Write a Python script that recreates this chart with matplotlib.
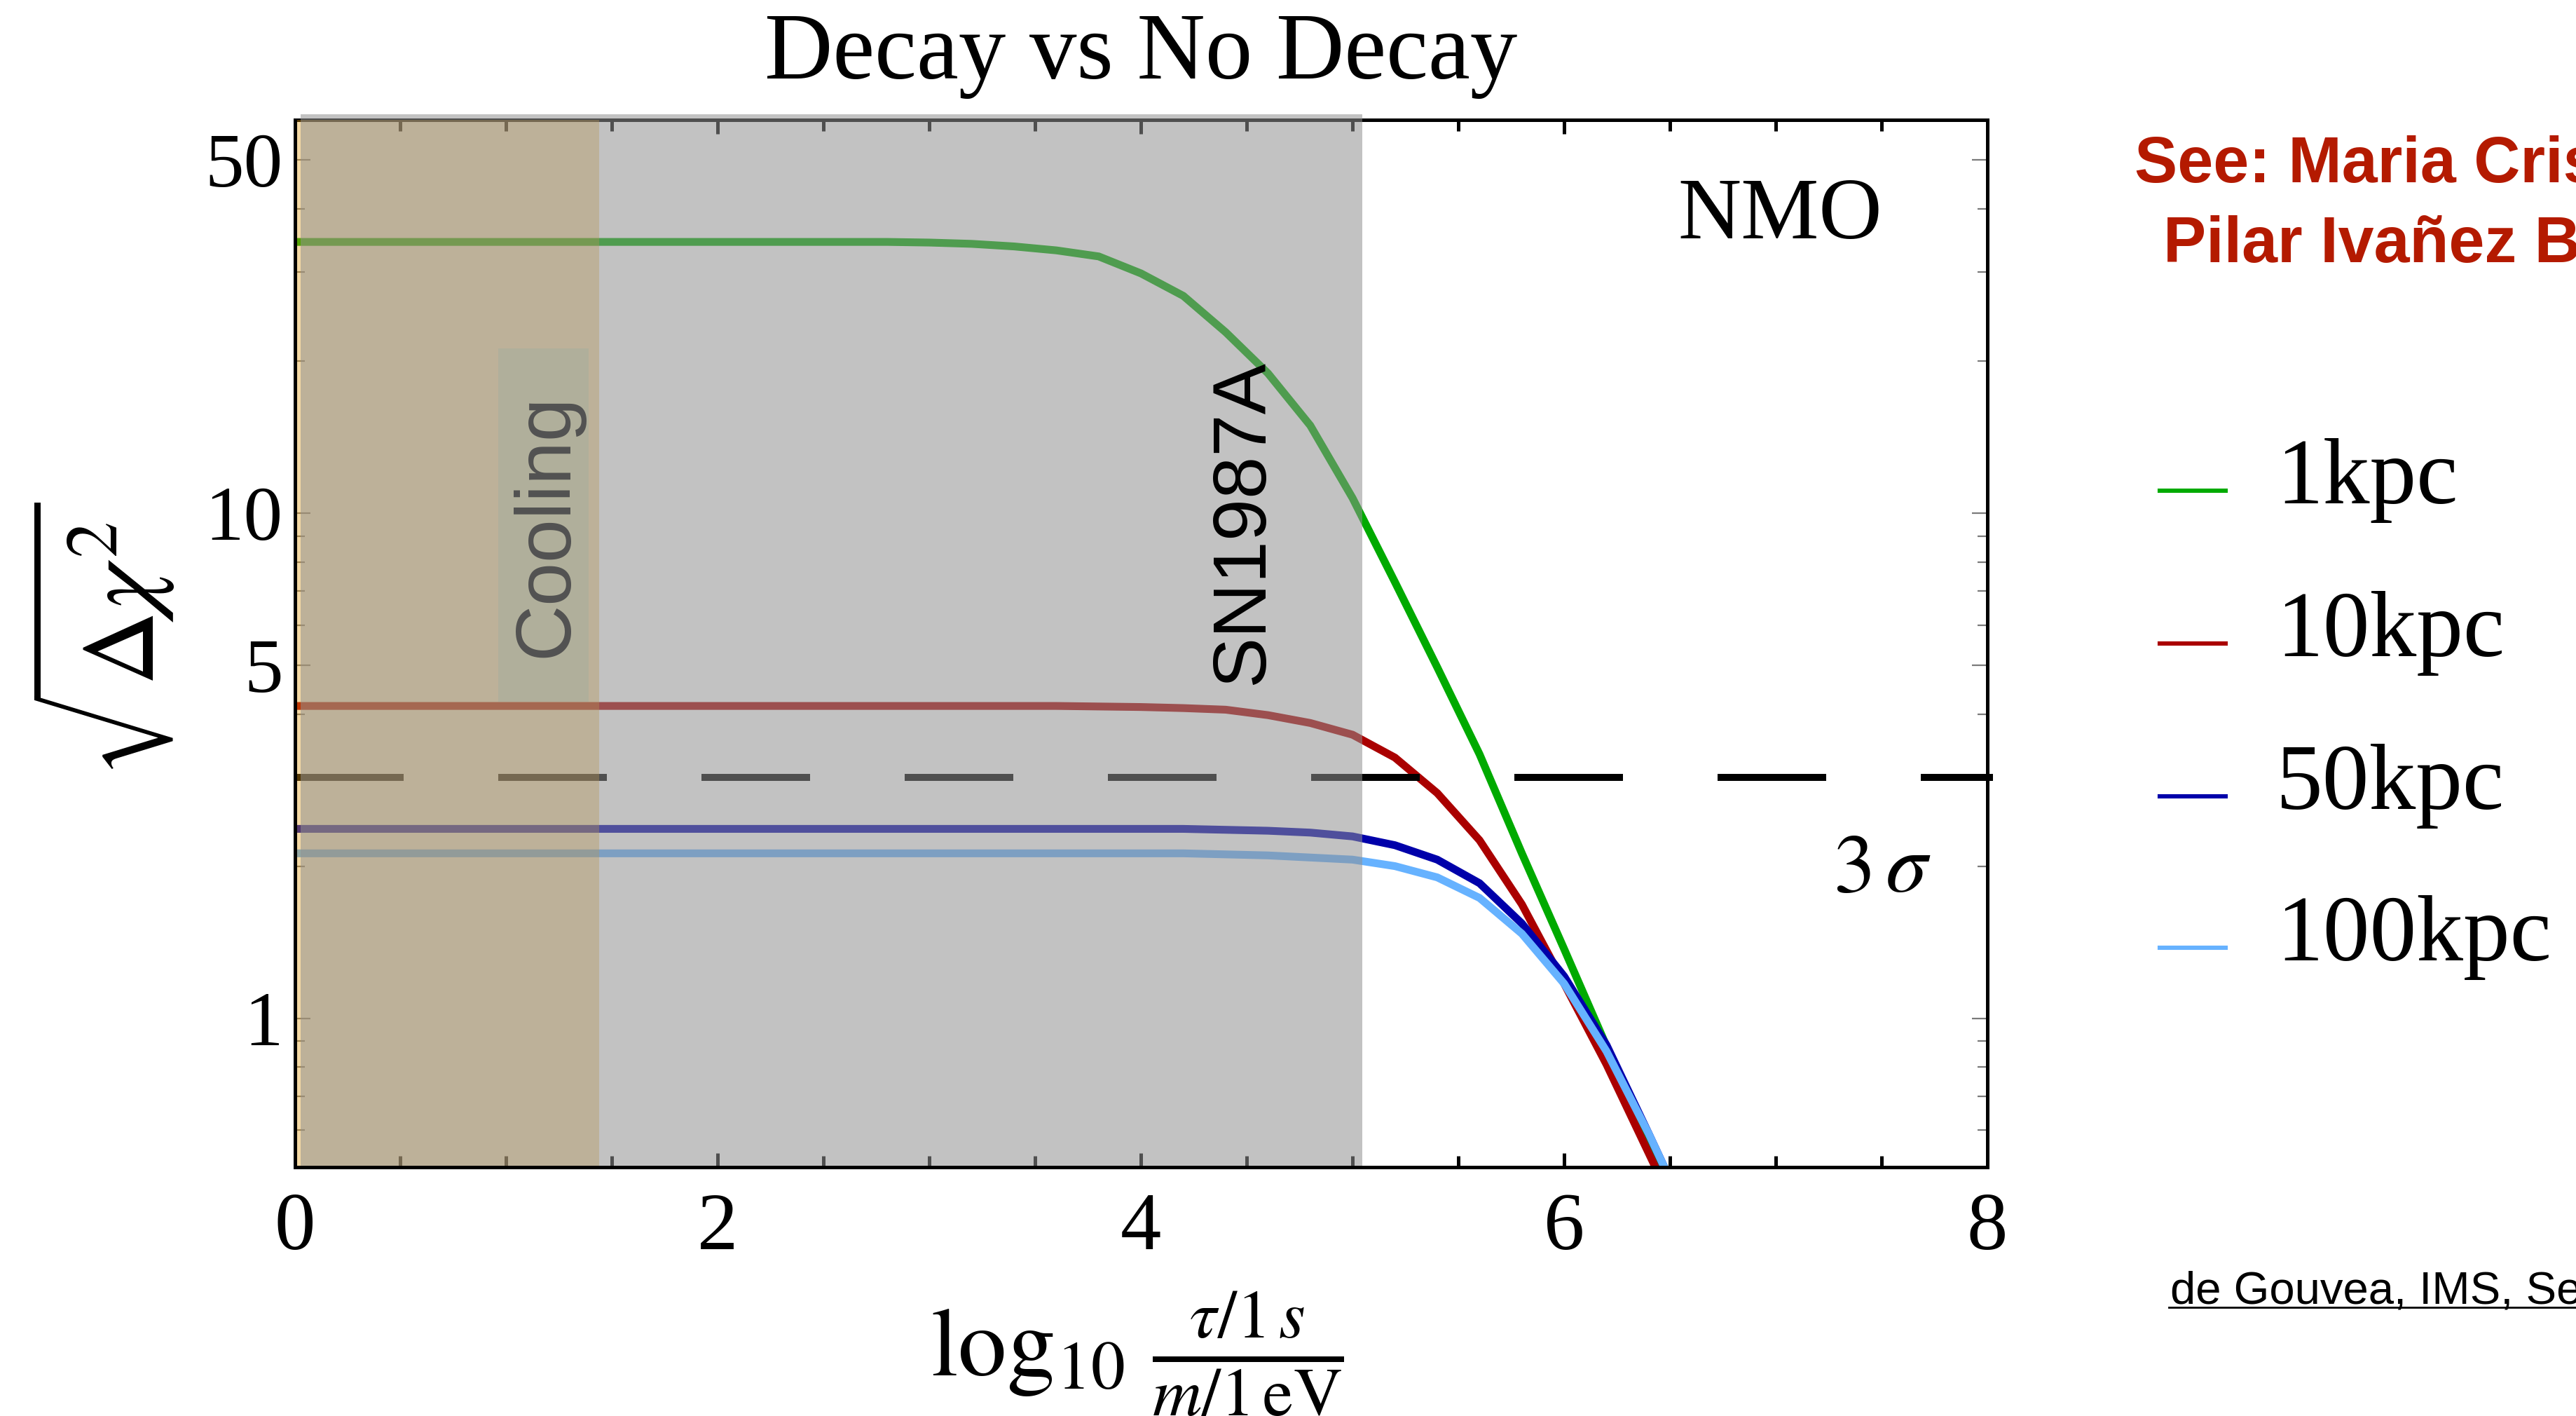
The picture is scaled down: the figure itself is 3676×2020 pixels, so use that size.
import matplotlib
matplotlib.use("Agg")
import matplotlib.pyplot as plt
from matplotlib.patches import Rectangle
from matplotlib.lines import Line2D
import matplotlib.transforms as mtransforms
from matplotlib.ticker import FixedLocator, FixedFormatter, NullFormatter

# ---------------------------------------------------------------- data
log_tau_over_m = [0.0, 2.6, 2.8, 3.0, 3.2, 3.4, 3.6, 3.8, 4.0, 4.2, 4.4,
                  4.6, 4.8, 5.0, 5.2, 5.4, 5.6, 5.8, 6.0, 6.2, 6.4, 6.6]

chi_1kpc = [34.4, 34.4, 34.4, 34.3, 34.1, 33.7, 33.1, 32.2, 29.8, 26.9, 22.8,
            18.9, 14.9, 10.7, 7.3, 4.95, 3.33, 2.12, 1.37, 0.88, 0.56, 0.36]
chi_10kpc = [4.15, 4.15, 4.15, 4.15, 4.15, 4.15, 4.15, 4.14, 4.13, 4.11, 4.08,
             3.98, 3.84, 3.64, 3.28, 2.79, 2.25, 1.68, 1.17, 0.81, 0.54, 0.36]
chi_50kpc = [2.37, 2.37, 2.37, 2.37, 2.37, 2.37, 2.37, 2.37, 2.37, 2.37, 2.36,
             2.35, 2.33, 2.29, 2.20, 2.06, 1.85, 1.54, 1.21, 0.885, 0.59, 0.39]
chi_100kpc = [2.12, 2.12, 2.12, 2.12, 2.12, 2.12, 2.12, 2.12, 2.12, 2.12, 2.11,
              2.10, 2.08, 2.06, 2.00, 1.90, 1.73, 1.47, 1.17, 0.86, 0.59, 0.39]

series_labels = ["1kpc", "10kpc", "50kpc", "100kpc"]
series_colors = ["#00aa00", "#aa0000", "#0000aa", "#66b2ff"]

sigma3_level = 3.0
cooling_bound = 1.44          # excluded by cooling arguments
sn1987a_bound = 5.046         # excluded by SN1987A
sn1987a_start = 0.028

x_ticks = [0, 2, 4, 6, 8]
x_tick_labels = ["0", "2", "4", "6", "8"]
y_ticks = [1, 5, 10, 50]
y_tick_labels = ["1", "5", "10", "50"]
y_minor_ticks = [0.6, 0.7, 0.8, 0.9, 2, 3, 4, 6, 7, 8, 9, 20, 30, 40]

# ---------------------------------------------------------------- figure
W, H = 3676, 2020
DPI = 200
plt.rcParams["font.family"] = ["Liberation Serif", "DejaVu Serif"]
plt.rcParams["mathtext.fontset"] = "stix"

fig = plt.figure(figsize=(W / DPI, H / DPI), dpi=DPI)


def fx(px):
    return px / W


def fy(py):
    return 1 - py / H


ax_left, ax_right, ax_top, ax_bottom = 420.5, 2836.0, 171.0, 1664.5
ax = fig.add_axes([fx(ax_left), fy(ax_bottom),
                   (ax_right - ax_left) / W, (ax_bottom - ax_top) / H])
ax.set_yscale("log")
ax.set_xlim(0, 8)
ax.set_ylim(0.508, 60)

# curves
for yv, c in zip([chi_1kpc, chi_10kpc, chi_50kpc, chi_100kpc], series_colors):
    ax.plot(log_tau_over_m, yv, color=c, lw=4.0, zorder=2,
            solid_joinstyle="miter")

# 3 sigma line
ax.plot([0, 8.027], [sigma3_level, sigma3_level], color="black", lw=3.6,
        dashes=(15.5, 13.5), dash_capstyle="butt", zorder=2, clip_on=False)

# excluded regions (translucent overlays)
blend = mtransforms.blended_transform_factory(ax.transData, ax.transAxes)
ax.add_patch(Rectangle((0, 0), cooling_bound, 1.0, transform=blend,
                       facecolor=(0.894, 0.60, 0.05), alpha=0.373,
                       edgecolor="none", zorder=3, clip_on=False))
ax.add_patch(Rectangle((sn1987a_start, 0), sn1987a_bound - sn1987a_start,
                       1.0054, transform=blend,
                       facecolor=(0.569, 0.569, 0.569), alpha=0.55,
                       edgecolor="none", zorder=3, clip_on=False))

# labels inside the frame
ax.add_patch(Rectangle((0.1204, 0.4441), 0.0534, 0.3378,
                       transform=ax.transAxes, facecolor="#b0af9b",
                       edgecolor="none", zorder=5))
fig.text(fx(780), fy(750), "Cooling", rotation=90, ha="center", va="center",
         family="Liberation Sans", fontsize=40, color="#525252", zorder=6)
fig.text(fx(1774), fy(745), "SN1987A", rotation=90, ha="center", va="center",
         family="Liberation Sans", fontsize=39, color="black", zorder=6)
fig.text(fx(2540), fy(340), "NMO", ha="center", va="baseline", fontsize=45)
fig.text(fx(2686), fy(1272), r"$3\,\sigma$", ha="center", va="baseline",
         fontsize=43)

# frame
for side in ["left", "bottom", "top", "right"]:
    ax.spines[side].set_linewidth(1.8)
    ax.spines[side].set_color("black")
ax.spines["left"].set_zorder(4)
ax.spines["bottom"].set_zorder(4)

ax.xaxis.set_major_locator(FixedLocator(x_ticks))
ax.xaxis.set_major_formatter(FixedFormatter(x_tick_labels))
ax.xaxis.set_minor_locator(FixedLocator([v * 0.5 for v in range(17) if v % 4]))
ax.xaxis.set_minor_formatter(NullFormatter())
ax.yaxis.set_major_locator(FixedLocator(y_ticks))
ax.yaxis.set_major_formatter(FixedFormatter(y_tick_labels))
ax.yaxis.set_minor_locator(FixedLocator(y_minor_ticks))
ax.yaxis.set_minor_formatter(NullFormatter())

ax.tick_params(axis="x", which="major", direction="in", length=7.2,
               width=1.8, top=True, bottom=True, color="black",
               labelsize=42, pad=13)
ax.tick_params(axis="x", which="minor", direction="in", length=5.8,
               width=1.8, top=True, bottom=True, color="black")
ax.tick_params(axis="y", which="major", direction="in", length=8,
               width=0.8, left=True, right=True, color="#7a7a7a",
               labelsize=40, pad=6)
ax.tick_params(axis="y", which="minor", direction="in", length=5,
               width=0.8, left=True, right=True, color="#7a7a7a")

# titles and axis labels
fig.text(fx(1628), fy(112), "Decay vs No Decay", ha="center",
         va="baseline", fontsize=48.5)
fig.text(fx(146), fy(913), r"$\sqrt{\Delta\chi^2}$", rotation=90,
         ha="center", va="center", fontsize=53)
fig.text(fx(1623), fy(1963), r"$\log_{10}\,\frac{\tau/1\,s}{m/1\,\mathrm{eV}}$",
         ha="center", va="baseline", fontsize=50)

# legend
legend_line_y = [700, 918, 1136, 1352]
for lab, c, yy in zip(series_labels, series_colors, legend_line_y):
    fig.add_artist(Line2D([fx(3082), fx(3176)], [fy(yy), fy(yy)],
                          transform=fig.transFigure, color=c, lw=2.2))
    fig.text(fx(3248), fy(yy + 18), lab, ha="left", va="baseline",
             fontsize=48)

# reference notes
fig.text(fx(3046), fy(260), "See: Maria Cristina Volpe", ha="left",
         va="baseline", family="Liberation Sans", fontweight="bold",
         fontsize=33, color="#b41a00")
fig.text(fx(3087), fy(374), "Pilar Ivañez Ballesteros", ha="left",
         va="baseline", family="Liberation Sans", fontweight="bold",
         fontsize=33, color="#b41a00")
fig.text(fx(3097), fy(1860), "de Gouvea, IMS, Sen", ha="left",
         va="baseline", family="Liberation Sans", fontsize=23.5,
         color="black")
fig.add_artist(Line2D([fx(3095), fx(3700)], [fy(1865), fy(1865)],
                      transform=fig.transFigure, color="black", lw=1.0))

fig.savefig("out.png", dpi=DPI, facecolor="white")
